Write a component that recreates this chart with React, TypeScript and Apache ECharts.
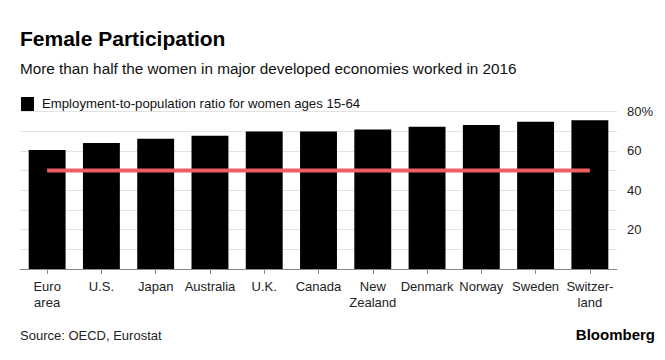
import React, { useEffect, useRef } from "react";
import * as echarts from "echarts";

const categories = [
  "Euro\narea",
  "U.S.",
  "Japan",
  "Australia",
  "U.K.",
  "Canada",
  "New\nZealand",
  "Denmark",
  "Norway",
  "Sweden",
  "Switzer-\nland",
];
const ratios = [60.4, 64.0, 66.1, 67.7, 69.8, 69.9, 70.9, 72.2, 73.1, 74.8, 75.6];
const halfLine = [50, 50, 50, 50, 50, 50, 50, 50, 50, 50, 50];
const yTicks = [20, 40, 60, 80];

const FONT = "'Liberation Sans', Arial, sans-serif";

export default function App() {
  const ref = useRef<HTMLDivElement>(null);
  useEffect(() => {
    if (!ref.current) return;
    const chart = echarts.init(ref.current, undefined, { renderer: "svg" });
    chart.setOption({
      animation: false,
      backgroundColor: "#ffffff",
      textStyle: { fontFamily: FONT },
      grid: { left: 20, right: 48, top: 111.5, bottom: 91, containLabel: false },
      xAxis: {
        type: "category",
        data: categories,
        axisLine: { lineStyle: { color: "#888888", width: 1 } },
        axisTick: { show: true, alignWithLabel: true, length: 5, lineStyle: { color: "#888888" } },
        axisLabel: {
          interval: 0,
          color: "#222222",
          fontSize: 13,
          lineHeight: 16,
          margin: 9,
          fontFamily: FONT,
        },
      },
      yAxis: {
        type: "value",
        position: "right",
        min: 0,
        max: 80,
        interval: 10,
        axisLine: { show: false },
        axisTick: { show: false },
        splitLine: { lineStyle: { color: "#e2e2e2", width: 1 } },
        axisLabel: {
          color: "#222222",
          fontSize: 13,
          margin: 10,
          fontFamily: FONT,
          formatter: (v: number) =>
            yTicks.includes(v) ? (v === 80 ? "80%" : String(v)) : "",
        },
      },
      series: [
        {
          type: "bar",
          data: ratios,
          barCategoryGap: "32%",
          itemStyle: { color: "#000000" },
          z: 2,
        },
        {
          type: "line",
          data: halfLine,
          symbol: "none",
          lineStyle: { color: "#ee5f63", width: 4 },
          z: 3,
        },
      ],
      graphic: [
        {
          type: "text",
          left: 20,
          top: 28,
          style: {
            text: "Female Participation",
            font: `bold 21px ${FONT}`,
            fill: "#000000",
          },
        },
        {
          type: "text",
          left: 20,
          top: 61,
          style: {
            text: "More than half the women in major developed economies worked in 2016",
            font: `15.3px ${FONT}`,
            fill: "#111111",
          },
        },
        {
          type: "rect",
          left: 21,
          top: 97,
          shape: { width: 13, height: 14 },
          style: { fill: "#000000" },
        },
        {
          type: "text",
          left: 42,
          top: 97,
          style: {
            text: "Employment-to-population ratio for women ages 15-64",
            font: `13.2px ${FONT}`,
            fill: "#111111",
          },
        },
        {
          type: "text",
          left: 20,
          top: 329,
          style: {
            text: "Source: OECD, Eurostat",
            font: `13px ${FONT}`,
            fill: "#222222",
          },
        },
        {
          type: "text",
          right: 10,
          top: 327,
          style: {
            text: "Bloomberg",
            font: `bold 15px ${FONT}`,
            fill: "#000000",
          },
        },
      ],
    });
    return () => chart.dispose();
  }, []);
  return (
    <div
      ref={ref}
      style={{ position: "fixed", left: 0, top: 0, width: 665, height: 360 }}
    />
  );
}
